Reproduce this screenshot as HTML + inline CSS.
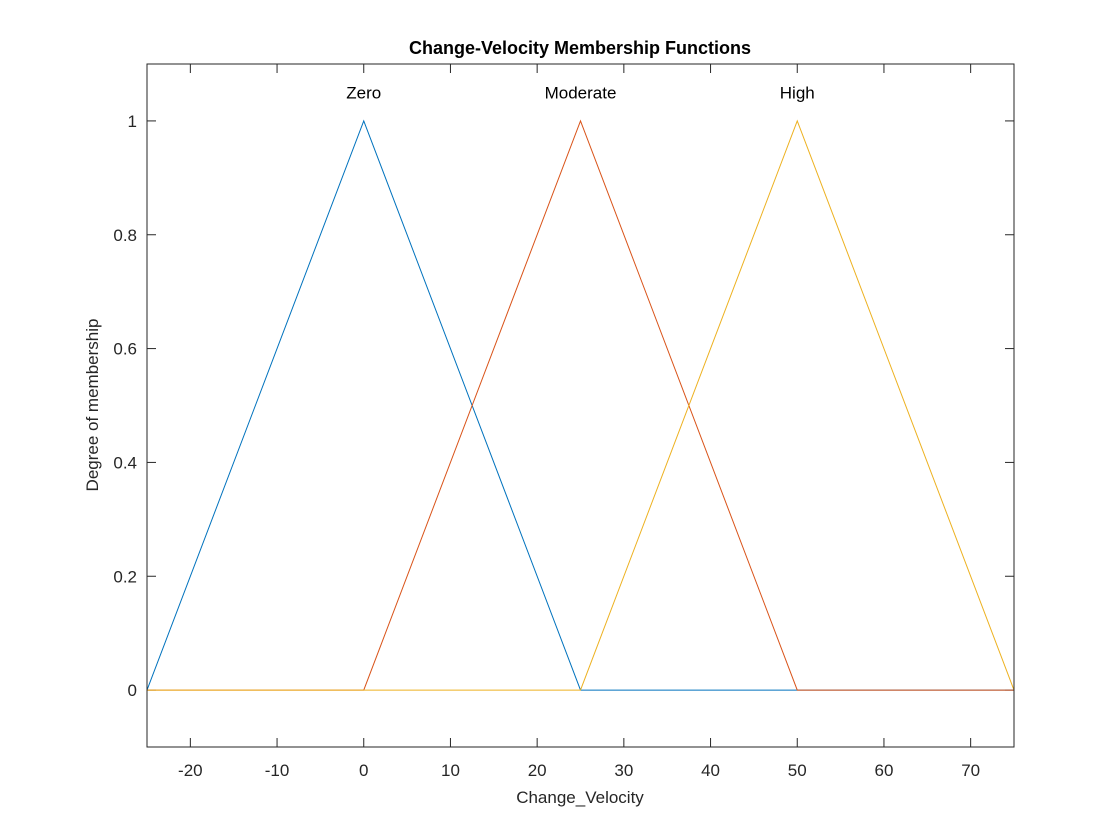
<!DOCTYPE html>
<html><head><meta charset="utf-8"><style>
html,body{margin:0;padding:0;background:#fff;}
svg{display:block;font-family:"Liberation Sans",Arial,sans-serif;}
</style></head><body>
<svg id="chart" width="1120" height="840" xmlns="http://www.w3.org/2000/svg">
<rect width="1120" height="840" fill="#fff"/>
<g id="ticks"></g>
<g id="series"></g>
<rect x="147" y="64" width="867" height="683" fill="none" stroke="#262626" stroke-width="1"/>
<text x="580" y="54" text-anchor="middle" font-size="18" font-weight="bold" fill="#000">Change-Velocity Membership Functions</text>
<text x="580" y="803" text-anchor="middle" font-size="17" fill="#262626">Change_Velocity</text>
<text transform="translate(98,405) rotate(-90)" text-anchor="middle" font-size="17" fill="#262626">Degree of membership</text>
</svg>
<script>
const xTicks=[-20,-10,0,10,20,30,40,50,60,70];
const yTicks=[0,0.2,0.4,0.6,0.8,1];
const yTickLabels=["0","0.2","0.4","0.6","0.8","1"];
const mfNames=["Zero","Moderate","High"];
const mfParams=[[-25,0,25],[0,25,50],[25,50,75]];
const mfColors=["#0072BD","#D95319","#EDB120"];
const xDomain=[-25,75];
const yDomain=[-0.1,1.1];
const L=147,R=1014,T=64,B=747;
const sx=v=>L+(v-xDomain[0])/(xDomain[1]-xDomain[0])*(R-L);
const sy=v=>B-(v-yDomain[0])/(yDomain[1]-yDomain[0])*(B-T);
const NS="http://www.w3.org/2000/svg";
const tg=document.getElementById('ticks'), sg=document.getElementById('series');
function mk(tag,attrs,parent){const e=document.createElementNS(NS,tag);for(const k in attrs)e.setAttribute(k,attrs[k]);parent.appendChild(e);return e;}
xTicks.forEach(v=>{const x=sx(v);
 const a=mk('line',{x1:x,x2:x,y1:B,y2:B-9,stroke:'#262626'},tg);
 
 
 const b=mk('line',{x1:x,x2:x,y1:T,y2:T+9,stroke:'#262626'},tg);
 
 
 const t=mk('text',{x:x,y:B+29,'text-anchor':'middle','font-size':17,fill:'#262626'},tg);t.textContent=v;
 
 
});
yTicks.forEach((v,i)=>{const y=sy(v);
 const a=mk('line',{x1:L,x2:L+9,y1:y,y2:y,stroke:'#262626'},tg);
 
 
 const b=mk('line',{x1:R,x2:R-9,y1:y,y2:y,stroke:'#262626'},tg);
 
 
 const t=mk('text',{x:L-10,y:y+6,'text-anchor':'end','font-size':17,fill:'#262626'},tg);t.textContent=yTickLabels[i];
 
 
});
mfParams.forEach((p,i)=>{
 const pts=[[xDomain[0],0],[p[0],0],[p[1],1],[p[2],0],[xDomain[1],0]].map(q=>sx(q[0])+','+sy(q[1])).join(' ');
 const pl=mk('polyline',{points:pts,fill:'none',stroke:mfColors[i],'stroke-width':1},sg);
 
 
 const t=mk('text',{x:sx(p[1]),y:sy(1.05)+6,'text-anchor':'middle','font-size':17,fill:'#000'},sg);t.textContent=mfNames[i];
 
 
});
</script>
</body></html>
